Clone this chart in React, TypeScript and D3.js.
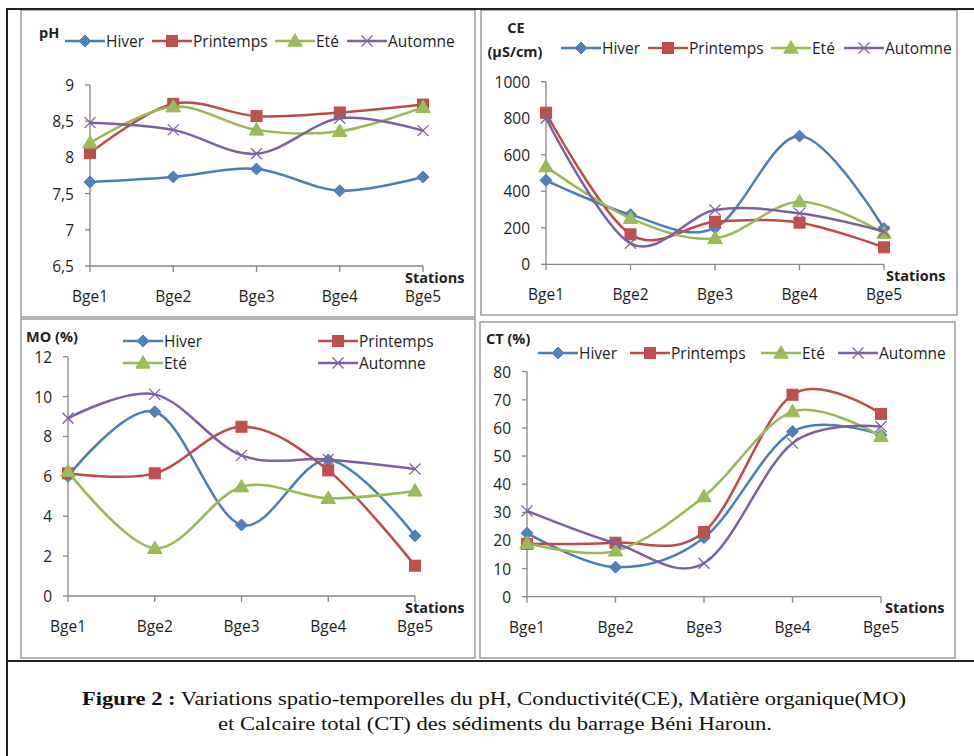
import React from "react";
import * as d3 from "d3";

const stations = ["Bge1", "Bge2", "Bge3", "Bge4", "Bge5"];
const seasons = ["Hiver", "Printemps", "Eté", "Automne"];

const phHiver = [7.66, 7.73, 7.84, 7.54, 7.73];
const phPrintemps = [8.06, 8.74, 8.57, 8.62, 8.73];
const phEte = [8.2, 8.7, 8.38, 8.36, 8.69];
const phAutomne = [8.48, 8.38, 8.05, 8.54, 8.37];
const phTicks = [6.5, 7, 7.5, 8, 8.5, 9];

const ceHiver = [460, 272, 200, 702, 196];
const cePrintemps = [830, 164, 233, 228, 93];
const ceEte = [535, 252, 142, 343, 170];
const ceAutomne = [800, 115, 297, 279, 180];
const ceTicks = [0, 200, 400, 600, 800, 1000];

const moHiver = [6.0, 9.24, 3.56, 6.82, 3.02];
const moPrintemps = [6.15, 6.15, 8.49, 6.3, 1.52];
const moEte = [6.25, 2.39, 5.48, 4.9, 5.27];
const moAutomne = [8.91, 10.11, 7.05, 6.85, 6.37];
const moTicks = [0, 2, 4, 6, 8, 10, 12];

const ctHiver = [22.6, 10.5, 21.0, 58.7, 57.5];
const ctPrintemps = [18.8, 19.2, 23.0, 71.8, 65.0];
const ctEte = [19.0, 16.3, 35.6, 65.8, 57.0];
const ctAutomne = [30.5, 19.0, 11.9, 54.6, 60.5];
const ctTicks = [0, 10, 20, 30, 40, 50, 60, 70, 80];

const COLORS = ["#4A7EBB", "#BE4B48", "#98B954", "#7D60A0"];
const FONT = "'Open Sans', 'DejaVu Sans', sans-serif";
const TXT = "#1e1e1e";

type Legend = { x: number; y: number }[];
type Panel = {
  box: { x: number; y: number; w: number; h: number };
  xr: [number, number];
  yr: [number, number];
  domain: [number, number];
  ticks: number[];
  series: number[][];
  titles: { text: string; x: number; y: number; anchor?: string }[];
  legend: Legend;
  stationsX: number;
};

const fmt = (v: number) => String(v).replace(".", ",");

function Marker({ i, x, y }: { i: number; x: number; y: number }) {
  const c = COLORS[i];
  if (i === 0) {
    const s = 6;
    return (
      <path d={`M${x},${y - s}L${x + s},${y}L${x},${y + s}L${x - s},${y}Z`} fill="#4F81BD" stroke={c} strokeWidth={1} />
    );
  }
  if (i === 1) {
    return <rect x={x - 5.5} y={y - 5.5} width={11} height={11} fill="#C0504D" stroke={c} strokeWidth={1} />;
  }
  if (i === 2) {
    const p = d3.symbol(d3.symbolTriangle, 90)();
    return <path d={p || ""} transform={`translate(${x},${y + 1})`} fill="#9BBB59" stroke={c} strokeWidth={1} />;
  }
  const s = 5.5;
  return (
    <path
      d={`M${x - s},${y - s}L${x + s},${y + s}M${x - s},${y + s}L${x + s},${y - s}`}
      stroke={c}
      strokeWidth={1.3}
      fill="none"
    />
  );
}

function ChartPanel({ p }: { p: Panel }) {
  const x = d3.scalePoint<string>().domain(stations).range(p.xr);
  const y = d3.scaleLinear().domain(p.domain).range(p.yr);
  const line = d3
    .line<number>()
    .x((_, i) => x(stations[i]) as number)
    .y((d) => y(d))
    .curve(d3.curveCardinal.tension(0));
  const axisY = p.yr[0];
  const axisX = p.xr[0];
  return (
    <g>
      <rect x={p.box.x} y={p.box.y} width={p.box.w} height={p.box.h} fill="#fff" stroke="#9a9a9a" strokeWidth={1.5} />
      {p.titles.map((t, k) => (
        <text key={k} x={t.x} y={t.y} fontFamily={FONT} fontWeight="bold" fontSize={14.5} fill={TXT}
          dominantBaseline="central" textAnchor={t.anchor || "start"}>
          {t.text}
        </text>
      ))}
      {/* y axis */}
      <line x1={axisX} x2={axisX} y1={p.yr[1]} y2={axisY} stroke="#868686" strokeWidth={1.3} />
      {p.ticks.map((t) => (
        <g key={t}>
          <line x1={axisX - 5} x2={axisX} y1={y(t)} y2={y(t)} stroke="#868686" strokeWidth={1.3} />
          <text x={axisX - 16} y={y(t)} textAnchor="end" dominantBaseline="central" fontFamily={FONT}
            fontSize={15.5} fill={TXT}>
            {fmt(t)}
          </text>
        </g>
      ))}
      {/* x axis */}
      <line x1={axisX} x2={p.xr[1]} y1={axisY} y2={axisY} stroke="#868686" strokeWidth={1.3} />
      {stations.map((s) => (
        <g key={s}>
          <line x1={x(s)} x2={x(s)} y1={axisY} y2={axisY + 6} stroke="#868686" strokeWidth={1.3} />
          <text x={x(s)} y={axisY + 30} textAnchor="middle" dominantBaseline="central" fontFamily={FONT}
            fontSize={15.5} fill={TXT}>
            {s}
          </text>
        </g>
      ))}
      <text x={p.stationsX} y={axisY + 11} dominantBaseline="central" fontFamily={FONT} fontWeight="bold"
        fontSize={14.5} fill={TXT}>
        Stations
      </text>
      {/* series */}
      {p.series.map((vals, i) => (
        <g key={i}>
          <path d={line(vals) || ""} fill="none" stroke={COLORS[i]} strokeWidth={2.5} />
          {vals.map((v, j) => (
            <Marker key={j} i={i} x={x(stations[j]) as number} y={y(v)} />
          ))}
        </g>
      ))}
      {/* legend */}
      {p.legend.map((l, i) => (
        <g key={i}>
          <line x1={l.x} x2={l.x + 40} y1={l.y} y2={l.y} stroke={COLORS[i]} strokeWidth={2.5} />
          <Marker i={i} x={l.x + 20} y={l.y} />
          <text x={l.x + 41} y={l.y} dominantBaseline="central" fontFamily={FONT} fontSize={15.5} fill={TXT}>
            {seasons[i]}
          </text>
        </g>
      ))}
    </g>
  );
}

const panels: Panel[] = [
  {
    box: { x: 21, y: 10, w: 454, h: 307 },
    xr: [90, 423],
    yr: [266, 85],
    domain: [6.5, 9],
    ticks: phTicks,
    series: [phHiver, phPrintemps, phEte, phAutomne],
    titles: [{ text: "pH", x: 39, y: 32 }],
    legend: [
      { x: 65, y: 41 },
      { x: 152, y: 41 },
      { x: 275, y: 41 },
      { x: 347, y: 41 },
    ],
    stationsX: 405,
  },
  {
    box: { x: 481, y: 10, w: 476, h: 305 },
    xr: [546, 884],
    yr: [264.3, 81.7],
    domain: [0, 1000],
    ticks: ceTicks,
    series: [ceHiver, cePrintemps, ceEte, ceAutomne],
    titles: [
      { text: "CE", x: 516, y: 27, anchor: "middle" },
      { text: "(µS/cm)", x: 515, y: 51, anchor: "middle" },
    ],
    legend: [
      { x: 561, y: 48 },
      { x: 648, y: 48 },
      { x: 771, y: 48 },
      { x: 844, y: 48 },
    ],
    stationsX: 886,
  },
  {
    box: { x: 21, y: 319, w: 454, h: 339 },
    xr: [68, 415],
    yr: [596, 356.7],
    domain: [0, 12],
    ticks: moTicks,
    series: [moHiver, moPrintemps, moEte, moAutomne],
    titles: [{ text: "MO (%)", x: 26, y: 336 }],
    legend: [
      { x: 123, y: 341 },
      { x: 318, y: 341 },
      { x: 123, y: 363 },
      { x: 318, y: 363 },
    ],
    stationsX: 405,
  },
  {
    box: { x: 480, y: 322, w: 475, h: 336 },
    xr: [527, 881],
    yr: [596.7, 371.7],
    domain: [0, 80],
    ticks: ctTicks,
    series: [ctHiver, ctPrintemps, ctEte, ctAutomne],
    titles: [{ text: "CT (%)", x: 486, y: 338 }],
    legend: [
      { x: 538, y: 353 },
      { x: 630, y: 353 },
      { x: 761, y: 353 },
      { x: 838, y: 353 },
    ],
    stationsX: 885,
  },
];

export default function App() {
  return (
    <svg width={974} height={756} style={{ position: "absolute", left: 0, top: 0, background: "#fff" }}>
      <rect x={0} y={0} width={974} height={756} fill="#fff" />
      {panels.map((p, i) => (
        <ChartPanel key={i} p={p} />
      ))}
      {/* outer frame */}
      <line x1={7} x2={974} y1={9} y2={9} stroke="#222" strokeWidth={2} />
      <line x1={7} x2={7} y1={8} y2={756} stroke="#222" strokeWidth={2} />
      <line x1={7} x2={974} y1={661} y2={661} stroke="#222" strokeWidth={2} />
      <text x={82} y={705} fontFamily="'Liberation Serif', 'Times New Roman', serif" fontSize={18} fill="#111"
        textLength={824} lengthAdjust="spacingAndGlyphs">
        <tspan fontWeight="bold">Figure 2 :</tspan>
        <tspan> Variations spatio-temporelles  du pH, Conductivité(CE), Matière organique(MO)</tspan>
      </text>
      <text x={218} y={730} fontFamily="'Liberation Serif', 'Times New Roman', serif" fontSize={18} fill="#111"
        textLength={554} lengthAdjust="spacingAndGlyphs">
        et Calcaire total (CT) des sédiments  du barrage Béni Haroun.
      </text>
    </svg>
  );
}
